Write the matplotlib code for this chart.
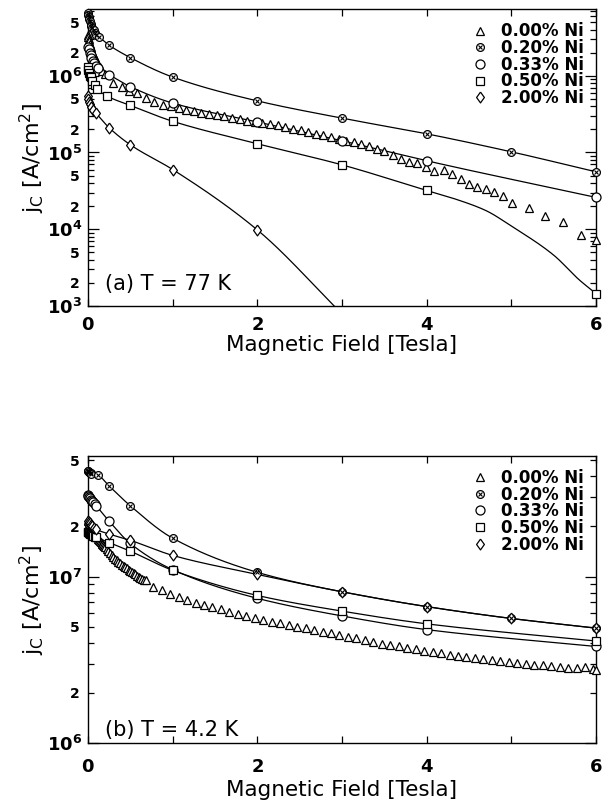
import numpy as np
import matplotlib
matplotlib.use("Agg")
import matplotlib.pyplot as plt
from matplotlib.ticker import LogLocator, FixedLocator, FuncFormatter
from matplotlib.legend_handler import HandlerTuple
from matplotlib.lines import Line2D

# ---------------- data: (a) T = 77 K ----------------
a_x000 = [0.00, 0.005, 0.01, 0.015, 0.02, 0.03, 0.04, 0.05, 0.06, 0.07, 0.08, 0.09, 0.10, 0.11,
          0.12, 0.14, 0.17, 0.20,
          0.30, 0.40, 0.49, 0.58, 0.69, 0.78, 0.89, 0.98, 1.07, 1.16, 1.25, 1.34, 1.43,
          1.52, 1.61, 1.70, 1.79, 1.88, 1.97, 2.06, 2.15, 2.24, 2.33, 2.42, 2.51, 2.60,
          2.69, 2.78, 2.87, 2.96, 3.05, 3.14, 3.23, 3.32, 3.41, 3.50, 3.60, 3.70, 3.79,
          3.88, 3.99, 4.09, 4.20, 4.30, 4.40, 4.50, 4.60, 4.70, 4.80, 4.90, 5.01, 5.21,
          5.40, 5.61, 5.82, 6.00]
a_y000 = [3.4e6, 3.2e6, 3.0e6, 2.8e6, 2.6e6, 2.4e6, 2.2e6, 2.05e6, 1.9e6, 1.8e6, 1.7e6, 1.6e6, 1.5e6, 1.44e6,
          1.38e6, 1.28e6, 1.15e6, 1.05e6,
          8.1e5, 7.2e5, 6.3e5, 6.0e5, 5.2e5, 4.6e5, 4.2e5, 4.0e5, 3.8e5, 3.6e5, 3.45e5, 3.3e5, 3.2e5,
          3.05e5, 2.95e5, 2.85e5, 2.7e5, 2.6e5, 2.5e5, 2.45e5, 2.35e5, 2.25e5, 2.15e5, 2.05e5, 1.95e5, 1.85e5,
          1.75e5, 1.68e5, 1.6e5, 1.48e5, 1.4e5, 1.35e5, 1.28e5, 1.2e5, 1.12e5, 1.05e5, 9.2e4, 8.2e4, 7.6e4,
          7.3e4, 6.4e4, 5.7e4, 5.9e4, 5.3e4, 4.5e4, 3.9e4, 3.6e4, 3.3e4, 3.1e4, 2.7e4, 2.2e4, 1.9e4,
          1.47e4, 1.23e4, 8.5e3, 7.3e3]

a_x020 = [0.00, 0.005, 0.01, 0.015, 0.02, 0.03, 0.04, 0.05, 0.065, 0.08, 0.10, 0.13, 0.25, 0.5,
          1.0, 2.0, 3.0, 4.0, 5.0, 6.0]
a_y020 = [6.6e6, 6.2e6, 5.8e6, 5.5e6, 5.2e6, 4.7e6, 4.4e6, 4.2e6, 3.9e6, 3.6e6, 3.4e6, 3.2e6, 2.5e6, 1.72e6,
          9.6e5, 4.7e5, 2.8e5, 1.75e5, 1.02e5, 5.6e4]

a_x033 = [0.00, 0.01, 0.02, 0.03, 0.04, 0.055, 0.07, 0.09, 0.12, 0.25, 0.5, 1.0, 2.0, 3.0, 4.0, 6.0]
a_y033 = [2.4e6, 2.2e6, 2.0e6, 1.85e6, 1.7e6, 1.57e6, 1.45e6, 1.35e6, 1.25e6, 1.03e6, 7.2e5, 4.4e5,
          2.5e5, 1.42e5, 7.8e4, 2.6e4]

a_x050 = [0.00, 0.005, 0.01, 0.02, 0.03, 0.05, 0.08, 0.11, 0.23, 0.5, 1.0, 2.0, 3.0, 4.0, 6.0]
a_y050 = [1.3e6, 1.2e6, 1.1e6, 1.0e6, 9.5e5, 8.5e5, 7.5e5, 6.7e5, 5.4e5, 4.1e5, 2.55e5, 1.3e5, 6.9e4,
          3.2e4, 1.45e3]
# extra knots of the drawn fit curve (no marker)
a_fx050 = [4.35, 4.7, 5.0, 5.5, 5.8]
a_fy050 = [2.45e4, 1.75e4, 1.1e4, 4.6e3, 2.2e3]

a_x200 = [0.00, 0.005, 0.01, 0.02, 0.04, 0.06, 0.09, 0.25, 0.5, 1.0, 2.0]
a_y200 = [5.5e5, 5.0e5, 4.6e5, 4.3e5, 3.9e5, 3.6e5, 3.3e5, 2.1e5, 1.26e5, 6.0e4, 9.8e3]
a_fx200 = [3.0]
a_fy200 = [7.9e2]

# ---------------- data: (b) T = 4.2 K ----------------
b_x000 = [0.00, 0.005, 0.01, 0.015, 0.02, 0.03, 0.04, 0.05, 0.06, 0.07, 0.08, 0.09, 0.10, 0.11, 0.12,
          0.13, 0.14, 0.15, 0.16, 0.17, 0.18, 0.19, 0.20,
          0.22, 0.24, 0.26, 0.28, 0.30, 0.32, 0.34, 0.36, 0.38, 0.40, 0.42, 0.44, 0.46, 0.48, 0.50,
          0.52, 0.54, 0.56, 0.58, 0.60, 0.62, 0.64, 0.66, 0.68,
          0.77, 0.87, 0.97, 1.07, 1.17, 1.27, 1.37, 1.47, 1.57, 1.67, 1.77, 1.87, 1.97,
          2.07, 2.17, 2.27, 2.37, 2.47, 2.57, 2.67, 2.77, 2.87, 2.97, 3.07, 3.17, 3.27,
          3.37, 3.47, 3.57, 3.67, 3.77, 3.87, 3.97, 4.07, 4.17, 4.27, 4.37, 4.47, 4.57,
          4.67, 4.77, 4.87, 4.97, 5.07, 5.17, 5.27, 5.37, 5.47, 5.57, 5.67, 5.77, 5.87,
          5.97, 6.00]
b_y000 = [2.2e7, 2.16e7, 2.12e7, 2.09e7, 2.06e7, 2.0e7, 1.95e7, 1.9e7, 1.86e7, 1.83e7, 1.8e7, 1.77e7, 1.75e7,
          1.72e7, 1.69e7, 1.66e7, 1.64e7, 1.61e7, 1.59e7, 1.57e7, 1.55e7, 1.52e7, 1.5e7,
          1.46e7, 1.42e7, 1.38e7, 1.35e7, 1.31e7, 1.28e7, 1.25e7, 1.23e7, 1.2e7, 1.18e7, 1.16e7, 1.14e7,
          1.12e7, 1.1e7, 1.08e7, 1.06e7, 1.05e7, 1.03e7, 1.01e7, 1.0e7, 9.85e6, 9.7e6, 9.6e6, 9.5e6,
          8.7e6, 8.25e6, 7.85e6, 7.5e6, 7.2e6, 6.95e6, 6.75e6, 6.55e6, 6.35e6, 6.15e6, 5.95e6, 5.8e6, 5.65e6,
          5.5e6, 5.35e6, 5.25e6, 5.1e6, 5.0e6, 4.9e6, 4.75e6, 4.65e6, 4.55e6, 4.45e6, 4.35e6, 4.25e6, 4.15e6,
          4.05e6, 3.95e6, 3.9e6, 3.8e6, 3.72e6, 3.65e6, 3.58e6, 3.52e6, 3.45e6, 3.4e6, 3.35e6, 3.3e6, 3.25e6,
          3.2e6, 3.16e6, 3.12e6, 3.08e6, 3.03e6, 3.0e6, 2.96e6, 2.93e6, 2.9e6, 2.87e6, 2.84e6, 2.82e6, 2.85e6,
          2.78e6, 2.75e6]

b_x020 = [0.00, 0.005, 0.01, 0.02, 0.03, 0.04, 0.12, 0.25, 0.5, 1.0, 2.0, 3.0, 4.0, 5.0, 6.0]
b_y020 = [4.3e7, 4.28e7, 4.25e7, 4.2e7, 4.18e7, 4.15e7, 4.05e7, 3.5e7, 2.66e7, 1.7e7, 1.06e7, 8.1e6,
          6.6e6, 5.6e6, 4.9e6]

b_x033 = [0.00, 0.005, 0.01, 0.02, 0.03, 0.045, 0.06, 0.08, 0.10, 0.25, 0.5, 1.0, 2.0, 3.0, 4.0, 6.0]
b_y033 = [3.1e7, 3.05e7, 3.0e7, 2.95e7, 2.9e7, 2.85e7, 2.8e7, 2.72e7, 2.65e7, 2.15e7, 1.58e7, 1.1e7,
          7.4e6, 5.8e6, 4.8e6, 3.8e6]

b_x050 = [0.00, 0.005, 0.01, 0.02, 0.03, 0.045, 0.06, 0.08, 0.10, 0.25, 0.5, 1.0, 2.0, 3.0, 4.0, 6.0]
b_y050 = [1.85e7, 1.84e7, 1.83e7, 1.81e7, 1.8e7, 1.78e7, 1.76e7, 1.74e7, 1.72e7, 1.6e7, 1.42e7, 1.09e7,
          7.7e6, 6.2e6, 5.2e6, 4.1e6]

b_x200 = [0.00, 0.01, 0.02, 0.035, 0.05, 0.075, 0.10, 0.25, 0.5, 1.0, 2.0, 3.0, 4.0, 5.0, 6.0]
b_y200 = [2.15e7, 2.12e7, 2.1e7, 2.05e7, 2.0e7, 1.96e7, 1.92e7, 1.8e7, 1.65e7, 1.34e7, 1.03e7, 8.1e6,
          6.6e6, 5.6e6, 4.9e6]

labels = ["0.00% Ni", "0.20% Ni", "0.33% Ni", "0.50% Ni", "2.00% Ni"]
x_ticks = [0, 2, 4, 6]


def pchip(x, y, xn):
    # monotone cubic through the points (used to draw the smooth fit lines)
    x = np.asarray(x, float)
    y = np.asarray(y, float)
    h = np.diff(x)
    d = np.diff(y) / h
    m = np.zeros_like(y)
    m[0], m[-1] = d[0], d[-1]
    for k in range(1, len(x) - 1):
        if d[k - 1] * d[k] > 0:
            w1 = 2 * h[k] + h[k - 1]
            w2 = h[k] + 2 * h[k - 1]
            m[k] = (w1 + w2) / (w1 / d[k - 1] + w2 / d[k])
    i = np.clip(np.searchsorted(x, xn) - 1, 0, len(x) - 2)
    t = (xn - x[i]) / h[i]
    h00 = 2 * t**3 - 3 * t**2 + 1
    h10 = t**3 - 2 * t**2 + t
    h01 = -2 * t**3 + 3 * t**2
    h11 = t**3 - t**2
    return h00 * y[i] + h10 * h[i] * m[i] + h01 * y[i + 1] + h11 * h[i] * m[i + 1]


def fit_line(ax, xs, ys, fx=(), fy=()):
    px = np.array(list(xs) + list(fx))
    py = np.log10(np.array(list(ys) + list(fy)))
    o = np.argsort(px)
    px, py = px[o], py[o]
    xn = np.linspace(px[0], px[-1], 800)
    ax.plot(xn, 10 ** pchip(px, py, xn), color="black", lw=0.9, zorder=2)


diamond = [(0, 1), (0.72, 0), (0, -1), (-0.72, 0), (0, 1)]
mk = dict(ls="none", color="black", mfc="white", mew=0.9, clip_on=False, zorder=4)
xk = dict(ls="none", color="black", mew=0.8, clip_on=False, zorder=5)


def draw_markers(ax, x0, y0, x2, y2, x3, y3, x5, y5, x20, y20):
    ax.plot(x0, y0, marker="^", ms=6.3, **mk)
    ax.plot(x2, y2, marker="o", ms=5.6, **mk)
    ax.plot(x2, y2, marker="x", ms=3.4, **xk)
    ax.plot(x3, y3, marker="o", ms=6.5, **mk)
    ax.plot(x5, y5, marker="s", ms=6.0, **mk)
    ax.plot(x20, y20, marker=diamond, ms=7.8, **mk)


def add_legend(ax, anchor):
    h0 = Line2D([], [], marker="^", ms=6.3, **mk)
    h2a = Line2D([], [], marker="o", ms=5.6, **mk)
    h2b = Line2D([], [], marker="x", ms=3.4, **xk)
    h3 = Line2D([], [], marker="o", ms=6.5, **mk)
    h5 = Line2D([], [], marker="s", ms=6.0, **mk)
    h20 = Line2D([], [], marker=diamond, ms=7.8, **mk)
    leg = ax.legend([h0, (h2a, h2b), h3, h5, h20], labels,
                    handler_map={tuple: HandlerTuple(ndivide=1, pad=0)},
                    loc="upper right", bbox_to_anchor=anchor, frameon=False,
                    handlelength=1.0, handletextpad=0.75, labelspacing=-0.08,
                    borderpad=0.0, borderaxespad=0.0,
                    prop={"weight": "bold", "size": 12})
    return leg


def minor_fmt(v, pos):
    m = v / 10 ** np.floor(np.log10(v) + 1e-9)
    if abs(m - 2) < 0.01:
        return r"$\mathbf{2}$"
    if abs(m - 5) < 0.01:
        return r"$\mathbf{5}$"
    return ""


def major_fmt(v, pos):
    return r"$\mathbf{10^{%d}}$" % int(round(np.log10(v)))


def style_axes(ax, ylo, yhi, xpad, xlabelpad):
    ax.set_yscale("log")
    ax.set_xlim(0, 6)
    ax.set_ylim(ylo, yhi)
    ax.xaxis.set_major_locator(FixedLocator(x_ticks))
    ax.xaxis.set_minor_locator(FixedLocator([1, 3, 5]))
    ax.xaxis.set_major_formatter(FuncFormatter(lambda v, p: r"$\mathbf{%d}$" % v))
    ax.yaxis.set_major_locator(LogLocator(base=10))
    ax.yaxis.set_minor_locator(LogLocator(base=10, subs=np.arange(2, 10)))
    ax.yaxis.set_major_formatter(FuncFormatter(major_fmt))
    ax.yaxis.set_minor_formatter(FuncFormatter(minor_fmt))
    ax.tick_params(axis="both", which="both", direction="in", top=True, right=True, width=0.9)
    ax.tick_params(axis="y", which="major", length=8, labelsize=13, pad=4)
    ax.tick_params(axis="y", which="minor", length=4.5, labelsize=10, pad=6)
    ax.tick_params(axis="x", which="both", length=5, labelsize=13, pad=xpad)
    ax.set_xlabel("Magnetic Field [Tesla]", fontsize=15.5, labelpad=xlabelpad)
    ax.set_ylabel(r"$\mathregular{j_C\ [A/cm^2]}$", fontsize=16, labelpad=0)
    for s in ax.spines.values():
        s.set_linewidth(1.0)


fig = plt.figure(figsize=(6.05, 8.06), dpi=100)
ax1 = fig.add_axes([88 / 605, 1 - 306 / 806, 508 / 605, 297 / 806])
ax2 = fig.add_axes([88 / 605, 1 - 743 / 806, 508 / 605, 287 / 806])

# (a) 77 K
fit_line(ax1, a_x020, a_y020)
fit_line(ax1, a_x033, a_y033)
fit_line(ax1, a_x050, a_y050, a_fx050, a_fy050)
fit_line(ax1, a_x200, a_y200, a_fx200, a_fy200)
draw_markers(ax1, a_x000, a_y000, a_x020, a_y020, a_x033, a_y033, a_x050, a_y050, a_x200, a_y200)
style_axes(ax1, 1e3, 7.4e6, 7, 1)
add_legend(ax1, (0.976, 0.955))
ax1.text(0.033, 0.075, "(a) T = 77 K", transform=ax1.transAxes, fontsize=15, va="center")

# (b) 4.2 K
fit_line(ax2, b_x020, b_y020)
fit_line(ax2, b_x033, b_y033)
fit_line(ax2, b_x050, b_y050)
fit_line(ax2, b_x200, b_y200)
draw_markers(ax2, b_x000, b_y000, b_x020, b_y020, b_x033, b_y033, b_x050, b_y050, b_x200, b_y200)
style_axes(ax2, 1e6, 5.3e7, 11, 3)
add_legend(ax2, (0.976, 0.955))
ax2.text(0.033, 0.045, "(b) T = 4.2 K", transform=ax2.transAxes, fontsize=15, va="center")

fig.savefig("out.png", dpi=100)
